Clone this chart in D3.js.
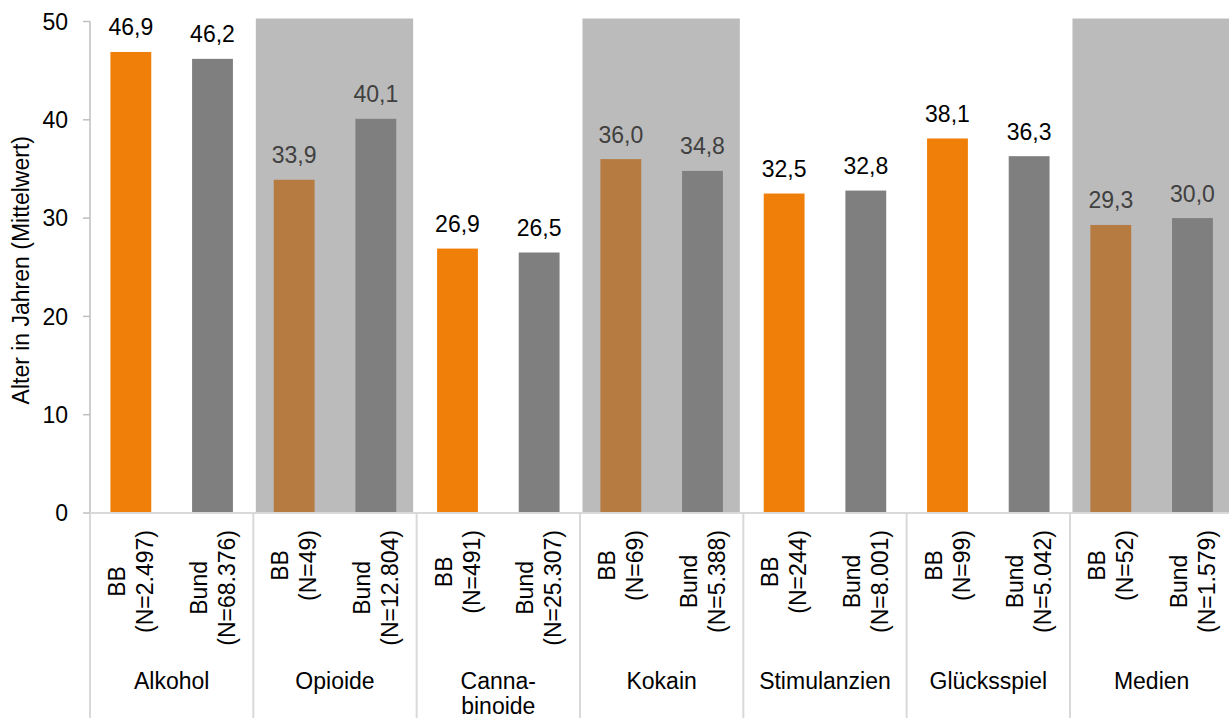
<!DOCTYPE html>
<html>
<head>
<meta charset="utf-8">
<script src="https://cdn.jsdelivr.net/npm/d3@7"></script>
<style>
  html, body { margin: 0; padding: 0; background: #fff; }
  svg { display: block; font-family: "Liberation Sans", Arial, sans-serif; }
</style>
</head>
<body>
<svg id="chart" width="1229" height="718"></svg>
<script>
// Substance categories and their axis labels (multi-line where broken)
const categories = ["Alkohol", "Opioide", "Cannabinoide", "Kokain", "Stimulanzien", "Glücksspiel", "Medien"];
const categoryLabels = [["Alkohol"], ["Opioide"], ["Canna-", "binoide"], ["Kokain"], ["Stimulanzien"], ["Glücksspiel"], ["Medien"]];
const groups = ["BB", "Bund"];

// Mean age per category
const bbValues = [46.9, 33.9, 26.9, 36.0, 32.5, 38.1, 29.3];
const bundValues = [46.2, 40.1, 26.5, 34.8, 32.8, 36.3, 30.0];

// Case counts per bar
const bbN = ["2.497", "49", "491", "69", "244", "99", "52"];
const bundN = ["68.376", "12.804", "25.307", "5.388", "8.001", "5.042", "1.579"];

// Categories drawn on a grey background
const shadedCategories = ["Opioide", "Kokain", "Medien"];

const yTicks = [0, 10, 20, 30, 40, 50];
const yTitle = "Alter in Jahren (Mittelwert)";

const W = 1229, H = 718;
const margin = { left: 90, top: 21.5, bottom: 513, right: 1233.3 };
const FONT = 23;

const svg = d3.select("#chart");
const de = d3.formatLocale({ decimal: ",", thousands: ".", grouping: [3], currency: ["", " €"] });
const fmt = de.format(".1f");

const x0 = d3.scaleBand().domain(categories).range([margin.left, margin.right]).padding(0);
const x1 = d3.scaleBand().domain(groups).range([0, x0.bandwidth()]).paddingInner(0.5).paddingOuter(0.25);
const y = d3.scaleLinear().domain([0, 50]).range([margin.bottom, margin.top]);

const rows = categories.map((c, i) => ({
  cat: c,
  label: categoryLabels[i],
  shaded: shadedCategories.includes(c),
  bars: [
    { group: "BB", value: bbValues[i], n: bbN[i] },
    { group: "Bund", value: bundValues[i], n: bundN[i] }
  ]
}));

// Grey background bands
svg.append("g").selectAll("rect")
  .data(rows.filter(d => d.shaded))
  .join("rect")
  .attr("x", d => x0(d.cat) + 2.5)
  .attr("width", x0.bandwidth() - 6)
  .attr("y", y(50) - 3)
  .attr("height", y(0) - y(50) + 3)
  .attr("fill", "#BBBBBB");

// Bars and value labels
const cat = svg.append("g").selectAll("g")
  .data(rows)
  .join("g")
  .attr("transform", d => `translate(${x0(d.cat)},0)`);

function barColor(row, bar) {
  if (bar.group === "Bund") return "#7F7F7F";
  return row.shaded ? "#B57B40" : "#F07F09";
}

cat.each(function (row) {
  const g = d3.select(this);
  g.selectAll("rect")
    .data(row.bars)
    .join("rect")
    .attr("x", b => x1(b.group))
    .attr("width", x1.bandwidth())
    .attr("y", b => y(b.value))
    .attr("height", b => y(0) - y(b.value))
    .attr("fill", b => barColor(row, b));

  g.selectAll("text.value")
    .data(row.bars)
    .join("text")
    .attr("class", "value")
    .attr("x", b => x1(b.group) + x1.bandwidth() / 2)
    .attr("y", b => y(b.value) - 16.5)
    .attr("text-anchor", "middle")
    .attr("font-size", FONT)
    .attr("fill", row.shaded ? "#404040" : "#000")
    .text(b => fmt(b.value));
});

// Y axis
const yAxis = svg.append("g");
yAxis.append("line")
  .attr("x1", margin.left).attr("x2", margin.left)
  .attr("y1", y(50)).attr("y2", y(0))
  .attr("stroke", "#BFBFBF").attr("stroke-width", 1.5);
yAxis.selectAll("line.tick")
  .data(yTicks)
  .join("line")
  .attr("class", "tick")
  .attr("x1", margin.left - 7).attr("x2", margin.left)
  .attr("y1", d => y(d)).attr("y2", d => y(d))
  .attr("stroke", "#BFBFBF").attr("stroke-width", 1.5);
yAxis.selectAll("text")
  .data(yTicks)
  .join("text")
  .attr("x", 68)
  .attr("y", d => y(d) + 8.2)
  .attr("text-anchor", "end")
  .attr("font-size", FONT)
  .attr("fill", "#000")
  .text(d => d);

svg.append("text")
  .attr("transform", `translate(29,${(y(0) + y(50)) / 2 + 3}) rotate(-90)`)
  .attr("text-anchor", "middle")
  .attr("font-size", FONT)
  .attr("fill", "#000")
  .text(yTitle);

// X axis baseline and category separators
svg.append("line")
  .attr("x1", margin.left).attr("x2", W)
  .attr("y1", y(0)).attr("y2", y(0))
  .attr("stroke", "#D9D9D9").attr("stroke-width", 2);

const seps = categories.map(c => x0(c)).concat([x0.range()[1]]);
svg.append("g").selectAll("line")
  .data(seps)
  .join("line")
  .attr("x1", d => d).attr("x2", d => d)
  .attr("y1", y(0)).attr("y2", H)
  .attr("stroke", "#D9D9D9").attr("stroke-width", 2);

// Rotated bar labels: group name over case count, lines centred on each other
const barLabels = svg.append("g");
rows.forEach(row => {
  row.bars.forEach(b => {
    const cx = x0(row.cat) + x1(b.group) + x1.bandwidth() / 2;
    const lg = barLabels.append("g")
      .attr("transform", `translate(${cx},530) rotate(-90)`);
    const lines = [b.group, `(N=${b.n})`];
    const texts = lg.selectAll("text")
      .data(lines)
      .join("text")
      .attr("y", (d, i) => -5.75 + i * 28)
      .attr("text-anchor", "middle")
      .attr("font-size", FONT)
      .attr("fill", "#000")
      .text(d => d);
    let maxW = 0;
    texts.each(function () { maxW = Math.max(maxW, this.getComputedTextLength()); });
    texts.attr("x", -maxW / 2);
  });
});

// Category names
const catLabels = svg.append("g");
rows.forEach(row => {
  catLabels.append("text")
    .attr("x", x0(row.cat) + x0.bandwidth() / 2)
    .attr("text-anchor", "middle")
    .attr("font-size", FONT)
    .attr("fill", "#000")
    .selectAll("tspan")
    .data(row.label)
    .join("tspan")
    .attr("x", x0(row.cat) + x0.bandwidth() / 2)
    .attr("y", (d, i) => 689 + i * 25)
    .text(d => d);
});
</script>
</body>
</html>
